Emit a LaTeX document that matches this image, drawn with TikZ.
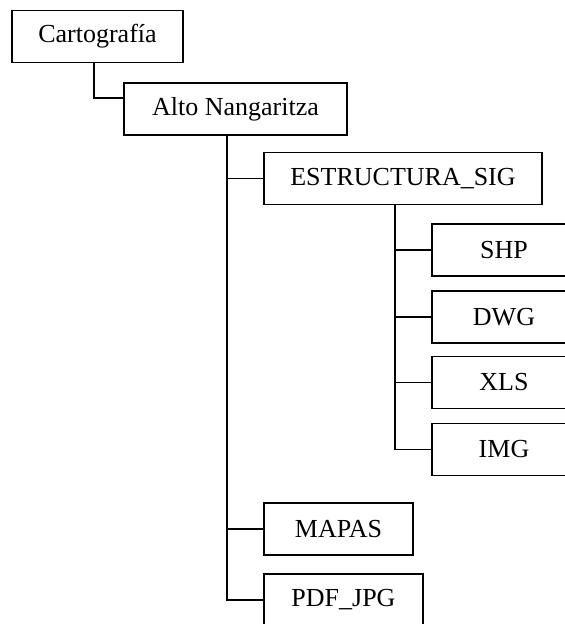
\documentclass[tikz,border=0pt]{standalone}
\usepackage{fontspec}
\setmainfont{Liberation Serif}
\usepackage{tikz}
\usetikzlibrary{arrows,shapes}
\tikzstyle{folder}=[draw,line width=1.5pt,minimum height=52pt,inner sep=0pt,font=\fontsize{26}{30}\selectfont]
\tikzstyle{branch} = [draw,line width=1.5pt,-]

\begin{document}
\begin{tikzpicture}[x=1pt,y=-1pt]
    \useasboundingbox (0,0) rectangle (565,624);
    % Folder tree of the project
    % First we draw the folder boxes
    \foreach \pos/\name/\boxw/\txt in {{(97.5,36.5)/carto/171/Cartografía}, {(235.5,109)/alto/223/Alto Nangaritza}, {(403,178.5)/estr/278/ESTRUCTURA\_SIG}, {(504,250)/shp/144/SHP}, {(504,317)/dwg/144/DWG}, {(504,382.5)/xls/144/XLS}, {(504,449.5)/img/144/IMG}, {(338.5,529)/mapas/149/MAPAS}, {(343.5,600)/pdf/159/PDF\_JPG}}
        \node[folder,minimum width=\boxw pt] (\name) at \pos {\txt};

    % Connect folders with branches
    \path[branch] ([xshift=-3.5pt]carto.south) |- ([yshift=11pt]alto.west);
    \foreach \dest in {estr, mapas, pdf}
        \path[branch] ([xshift=-8.5pt]alto.south) |- (\dest.west);
    \foreach \dest in {shp, dwg, xls, img}
        \path[branch] ([xshift=-8pt]estr.south) |- (\dest.west);

\end{tikzpicture}
\end{document}
